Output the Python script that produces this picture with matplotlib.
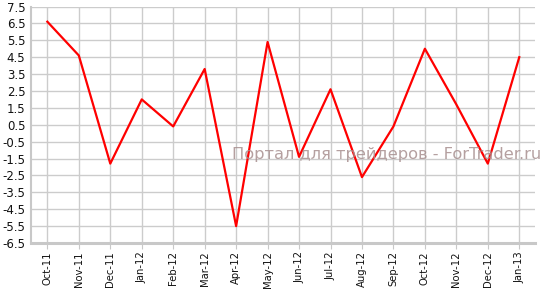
import numpy as np
import matplotlib.pyplot as plt

months = ["Oct-11", "Nov-11", "Dec-11", "Jan-12", "Feb-12", "Mar-12", "Apr-12", "May-12",
          "Jun-12", "Jul-12", "Aug-12", "Sep-12", "Oct-12", "Nov-12", "Dec-12", "Jan-13"]
values = [6.6, 4.6, -1.8, 2.0, 0.4, 3.8, -5.5, 5.4, -1.4, 2.6, -2.6, 0.4, 5.0, 1.7, -1.8, 4.5]
yticks = np.arange(-6.5, 8.0, 1.0)

fig = plt.figure(figsize=(5.48, 2.90), dpi=100)
ax = fig.add_axes([31 / 548, 1 - 243 / 290, (535 - 31) / 548, (243 - 6.5) / 290])

x = np.arange(len(months))
ax.plot(x, values, color="#ff0000", lw=1.6, zorder=3)

ax.set_xlim(-0.52, len(months) - 0.5)
ax.set_ylim(-6.5, 7.5)
ax.set_yticks(yticks)
ax.set_yticklabels([f"{v:.1f}" for v in yticks])
ax.set_xticks(x)
ax.set_xticklabels(months, rotation=90)

ax.grid(True, color="#cccccc", lw=1.0)
ax.set_axisbelow(True)
for s in ["top", "right"]:
    ax.spines[s].set_visible(False)
ax.spines["left"].set_color("#c8c8c8")
ax.spines["left"].set_linewidth(1.5)
ax.spines["bottom"].set_color("#c8c8c8")
ax.spines["bottom"].set_linewidth(2.2)
ax.tick_params(axis="y", length=0, labelsize=8.5, pad=4, labelcolor="#111111")
ax.tick_params(axis="x", length=4, color="#c8c8c8", labelsize=7.2, pad=2, labelcolor="#111111")

fig.text(387 / 548, 1 - 155 / 290, "Портал для трейдеров - ForTrader.ru", ha="center", va="center",
         fontsize=11.7, color="#a89090", alpha=0.85)

fig.savefig("out.png", dpi=100)
